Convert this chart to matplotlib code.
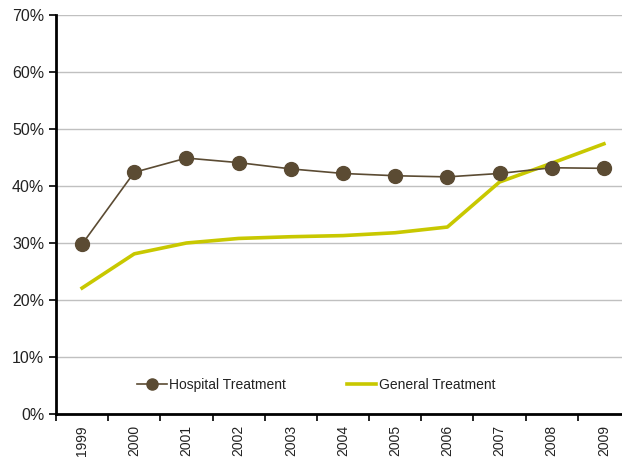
import matplotlib.pyplot as plt
from matplotlib import font_manager
import numpy as np

# Prefer a narrow sans if one is around
names = {f.name for f in font_manager.fontManager.ttflist}
family = 'Liberation Sans Narrow' if 'Liberation Sans Narrow' in names else 'Liberation Sans'
plt.rcParams['font.family'] = [family, 'DejaVu Sans']

years = ['1999', '2000', '2001', '2002', '2003', '2004', '2005', '2006', '2007', '2008', '2009']
hospital = [29.8, 42.4, 44.9, 44.1, 43.0, 42.2, 41.8, 41.6, 42.2, 43.2, 43.1]
general = [22.1, 28.1, 30.0, 30.8, 31.1, 31.3, 31.8, 32.8, 40.7, 44.0, 47.4]

hosp_color = '#5b4b33'
gen_color = '#c8c800'

fig = plt.figure(figsize=(6.22, 4.61), dpi=100)
ax = fig.add_axes([56 / 622, 47 / 461, 574 / 622, 399 / 461])

x = np.arange(len(years))
ax.plot(x, hospital, color=hosp_color, linewidth=1.2, marker='o', markersize=10,
        markeredgecolor=hosp_color, label='Hospital Treatment', zorder=3)
ax.plot(x, general, color=gen_color, linewidth=2.6, label='General Treatment', zorder=2)

ax.set_xlim(-0.5, len(years) - 0.5)
ax.set_ylim(0, 70)
ax.set_yticks(np.arange(0, 71, 10))
ax.set_yticklabels([f'{v}%' for v in range(0, 71, 10)], fontsize=11.5, color='#222222')
ax.set_xticks(x)
ax.set_xticklabels(years, rotation=90, fontsize=10, color='#222222')
ax.set_xticks(np.arange(-0.5, len(years), 1), minor=True)
ax.tick_params(axis='x', which='major', length=0, pad=8)
ax.tick_params(axis='x', which='minor', length=5, width=1.2, direction='out')
ax.tick_params(axis='y', length=5, width=1.2, direction='out')

ax.grid(axis='y', color='#c0c0c0', linewidth=1)
ax.set_axisbelow(True)
for side in ['top', 'right']:
    ax.spines[side].set_visible(False)
ax.spines['left'].set_linewidth(2)
ax.spines['bottom'].set_linewidth(2)

leg = ax.legend(loc='lower left', bbox_to_anchor=(0.12, 0.025), ncol=2, frameon=False,
                fontsize=10, columnspacing=4.4, handlelength=2.1, handletextpad=0.2,
                markerscale=0.8)
for t in leg.get_texts():
    t.set_color('#222222')

fig.savefig('out.png', dpi=100)
